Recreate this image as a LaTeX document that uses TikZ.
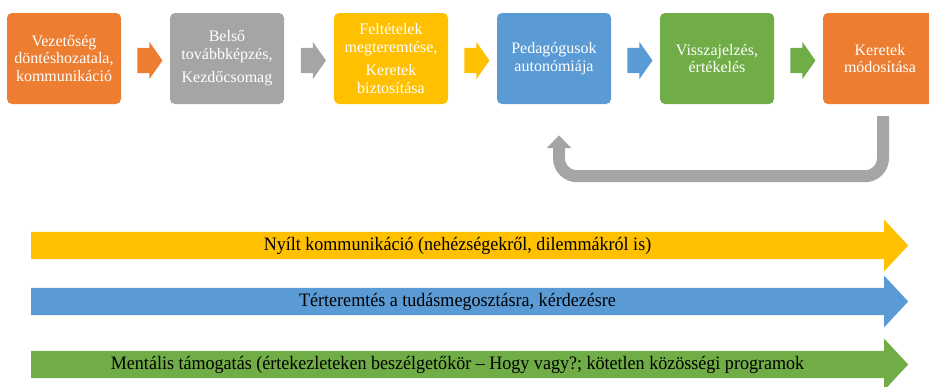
\documentclass[tikz,border=0pt]{standalone}
\usepackage{fontspec}
\setmainfont{Liberation Serif}
\newfontfamily\narrowfont[FakeStretch=0.95]{Liberation Serif}
\usetikzlibrary{shapes.arrows, arrows.meta, calc}
\definecolor{offorange}{HTML}{ED7D31}
\definecolor{offgray}{HTML}{A5A5A5}
\definecolor{offyellow}{HTML}{FFC000}
\definecolor{offblue}{HTML}{5B9BD5}
\definecolor{offgreen}{HTML}{70AD47}

\begin{document}
\begin{tikzpicture}[x=1pt, y=1pt,
    box/.style={rounded corners=5pt, minimum width=114pt, minimum height=91pt, inner sep=0pt,
        text=white, align=center, font=\fontsize{16}{17.5}\selectfont},
    steparrow/.style={single arrow, minimum height=25pt, inner xsep=0pt, inner ysep=12.5pt,
        single arrow head extend=6pt, single arrow tip angle=110},
    bigarrow/.style={single arrow, minimum height=877pt, inner xsep=0pt, inner ysep=13.5pt,
        single arrow head extend=12pt, single arrow tip angle=94, anchor=tail},
    bartext/.style={font=\narrowfont\fontsize{19}{22}\selectfont}]
    \useasboundingbox (0,0) rectangle (929,-386);

    \node[box, fill=offorange] at (64, -58.5)  (vez) {Vezetőség\\ döntéshozatala,\\ kommunikáció};
    \node[box, fill=offgray]   at (227, -58.5) (bel) {Belső\\ továbbképzés,\\[6pt] Kezdőcsomag};
    \node[box, fill=offyellow] at (391, -58.5) (fel) {Feltételek\\ megteremtése,\\[6pt] Keretek\\ biztosítása};
    \node[box, fill=offblue]   at (554, -58.5) (ped) {Pedagógusok\\ autonómiája};
    \node[box, fill=offgreen]  at (717, -58.5) (vis) {Visszajelzés,\\ értékelés};
    \node[box, fill=offorange] at (880, -58.5) (ker) {Keretek\\ módosítása};

    \node[steparrow, fill=offorange] at ([yshift=-2pt]$(vez.east)!0.5!(bel.west)$) (s1) {};
    \node[steparrow, fill=offgray]   at ([yshift=-2pt]$(bel.east)!0.5!(fel.west)$) (s2) {};
    \node[steparrow, fill=offyellow] at ([yshift=-2pt]$(fel.east)!0.5!(ped.west)$) (s3) {};
    \node[steparrow, fill=offblue]   at ([yshift=-2pt]$(ped.east)!0.5!(vis.west)$) (s4) {};
    \node[steparrow, fill=offgreen]  at ([yshift=-2pt]$(vis.east)!0.5!(ker.west)$) (s5) {};

    % visszacsatolas
    \draw[offgray, line width=12pt, rounded corners=18pt, -{Triangle[width=24pt, length=13pt]}]
        ([xshift=3pt, yshift=-12pt]ker.south) -- ++(0,-60) -| ([xshift=5pt, yshift=-31pt]ped.south);

    \node[bigarrow, fill=offyellow] at (31, -245.5) (nyilt) {};
    \node[bigarrow, fill=offblue]   at (31, -301.5) (ter) {};
    \node[bigarrow, fill=offgreen]  at (31, -364.5) (ment) {};
    \node[bartext] at (457.5, -245.5) (nyilttxt) {Nyílt kommunikáció (nehézségekről, dilemmákról is)};
    \node[bartext] at (457.5, -301.5) (tertxt) {Térteremtés a tudásmegosztásra, kérdezésre};
    \node[bartext] at (457.5, -364.5) (menttxt) {Mentális támogatás (értekezleteken beszélgetőkör – Hogy vagy?; kötetlen közösségi programok};
\end{tikzpicture}
\end{document}
